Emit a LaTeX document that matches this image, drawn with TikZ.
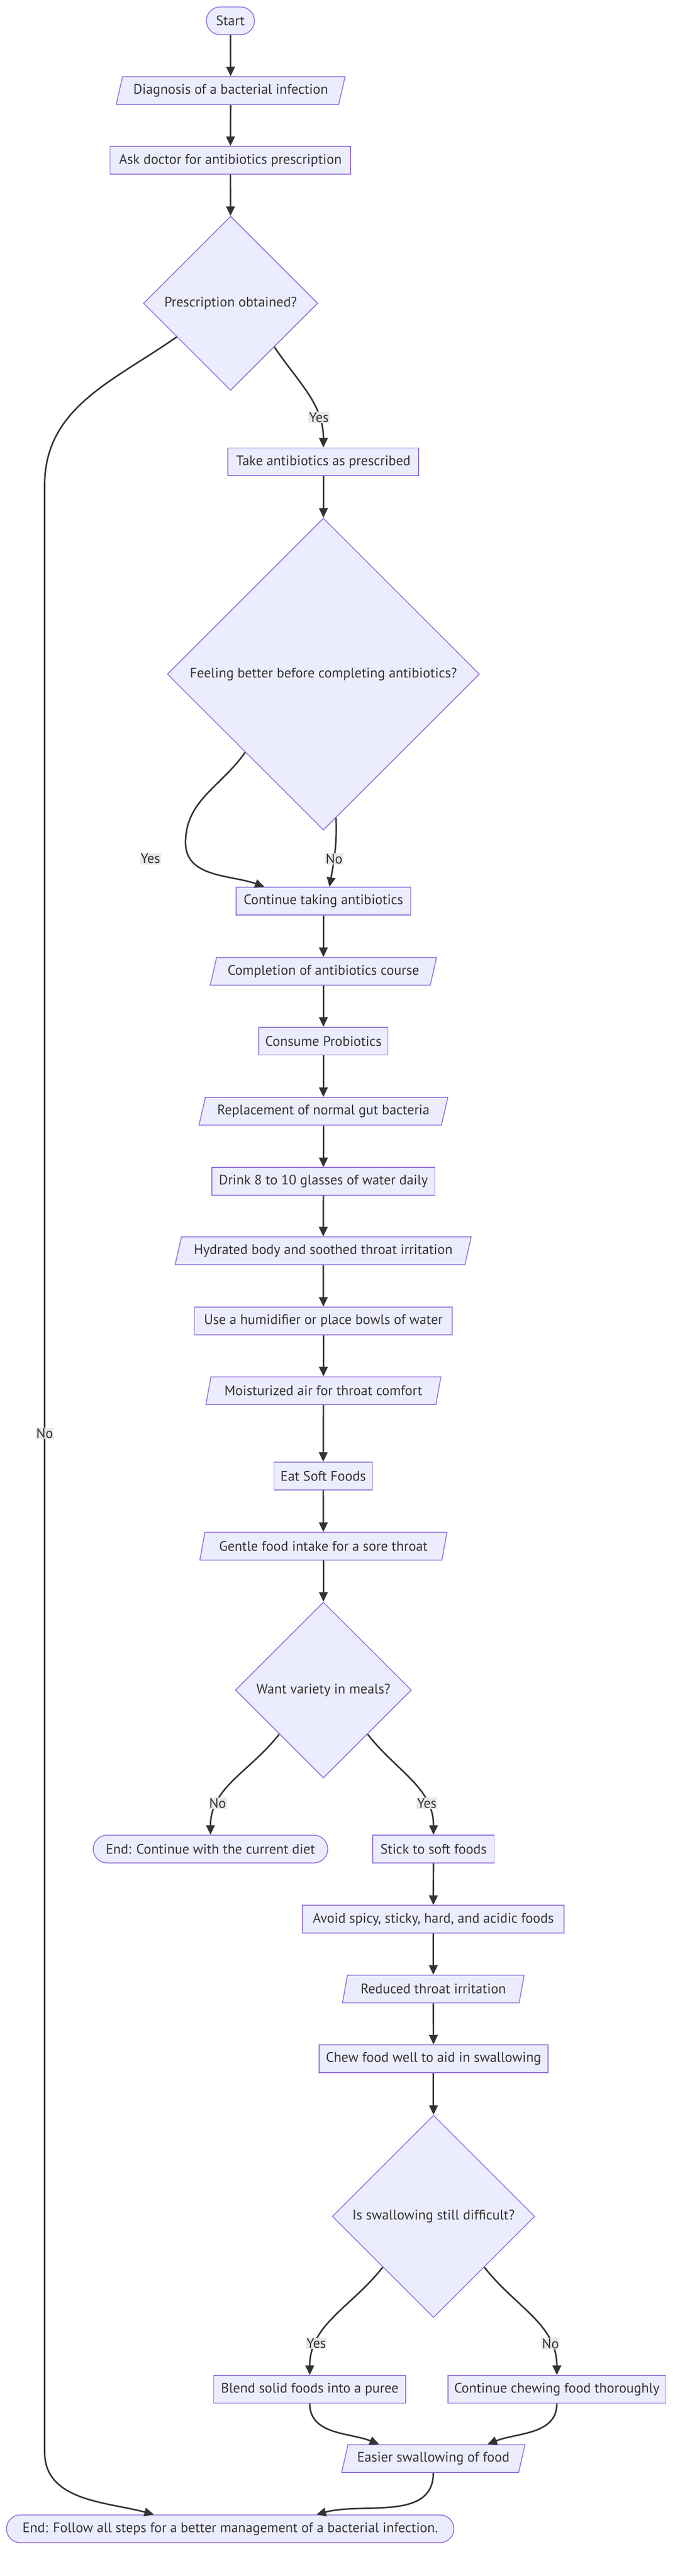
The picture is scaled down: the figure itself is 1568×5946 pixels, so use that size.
\documentclass[tikz,border=0pt]{standalone}
\usepackage{fontspec}
\setmainfont{PT Sans}
\usetikzlibrary{shapes.geometric,arrows.meta}

\definecolor{nodefill}{HTML}{ECECFF}
\definecolor{nodeline}{HTML}{9370DB}
\definecolor{inkgray}{HTML}{333333}
\definecolor{labelbg}{HTML}{E8E8E8}

\tikzset{
    box/.style={draw=nodeline, fill=nodefill, line width=2pt, text=inkgray, minimum height=64pt, inner sep=0pt},
    proc/.style={box, rectangle},
    io/.style={box, trapezium, trapezium left angle=63.4, trapezium right angle=116.6, trapezium stretches body=true},
    term/.style={box, rectangle, rounded corners=32pt},
    choice/.style={box, diamond, aspect=1, minimum width=#1, minimum height=#1},
    flow/.style={draw=inkgray, line width=3.5pt, -{Triangle[length=22pt,width=20pt]}},
    elabel/.style={fill=labelbg, text=inkgray, inner sep=1.5pt},
}

\begin{document}
\begin{tikzpicture}[x=1pt, y=-1pt, font=\fontsize{32}{38}\selectfont]
        \useasboundingbox (0,0) rectangle (1568,5946);

        \node[term, minimum width=111pt] (start) at (531.5,48) {Start};
        \node[io, minimum width=528pt] (diag) at (532,209) {Diagnosis of a bacterial infection};
        \node[proc, minimum width=555pt] (ask) at (531.5,370) {Ask doctor for antibiotics prescription};
        \node[choice=402pt] (presc) at (532,700) {Prescription obtained?};
        \node[proc, minimum width=440pt] (take) at (746,1066) {Take antibiotics as prescribed};
        \node[choice=720pt] (better) at (746,1556) {Feeling better before completing antibiotics?};
        \node[proc, minimum width=402pt] (cont) at (746,2080) {Continue taking antibiotics};
        \node[io, minimum width=522pt] (course) at (746,2242) {Completion of antibiotics course};
        \node[proc, minimum width=298pt] (probio) at (746,2403) {Consume Probiotics};
        \node[io, minimum width=574pt] (gut) at (746,2565) {Replacement of normal gut bacteria};
        \node[proc, minimum width=514pt] (water) at (746,2727) {Drink 8 to 10 glasses of water daily};
        \node[io, minimum width=683pt] (hydr) at (745.5,2887) {Hydrated body and soothed throat irritation};
        \node[proc, minimum width=594pt] (humid) at (746,3049) {Use a humidifier or place bowls of water};
        \node[io, minimum width=542pt] (moist) at (746,3210) {Moisturized air for throat comfort};
        \node[proc, minimum width=227pt] (soft) at (745.5,3407) {Eat Soft Foods};
        \node[io, minimum width=570pt] (gentle) at (746,3569) {Gentle food intake for a sore throat};
        \node[choice=406pt] (variety) at (746,3901) {Want variety in meals?};
        \node[term, minimum width=541pt] (enddiet) at (485.5,4268) {End: Continue with the current diet};
        \node[proc, minimum width=280pt] (stick) at (1000,4268) {Stick to soft foods};
        \node[proc, minimum width=603pt] (avoid) at (999.5,4430) {Avoid spicy, sticky, hard, and acidic foods};
        \node[io, minimum width=419pt] (reduced) at (999.5,4591) {Reduced throat irritation};
        \node[proc, minimum width=528pt] (chew) at (1000,4752) {Chew food well to aid in swallowing};
        \node[choice=467pt] (swallow) at (1000,5116) {Is swallowing still difficult?};
        \node[proc, minimum width=443pt] (blend) at (714.5,5515) {Blend solid foods into a puree};
        \node[proc, minimum width=503pt] (chewon) at (1284.5,5515) {Continue chewing food thoroughly};
        \node[io, minimum width=423pt] (easier) at (999.5,5675) {Easier swallowing of food};
        \node[term, minimum width=1032pt] (endall) at (531,5837) {End: Follow all steps for a better management of a bacterial infection.};

        \foreach \a/\b in {start/diag, diag/ask, ask/presc, take/better, cont/course, course/probio,
                probio/gut, gut/water, water/hydr, hydr/humid, humid/moist, moist/soft, soft/gentle,
                gentle/variety, stick/avoid, avoid/reduced, reduced/chew, chew/swallow} {
            \draw[flow] (\a) -- (\b);
        }

        \draw[flow] (presc.south east) to[out=-56, in=90] node[elabel, pos=0.74] (lyes1) {Yes} (take.north);
        \draw[flow] (presc.212) to[out=-145, in=90] (103,1120) -- node[elabel, pos=0.482] (lno1) {No} (103,5660)
            to[out=-90, in=165] ([xshift=-176pt]endall.north);

        \draw[flow] (better.south west) to[out=-125, in=90] (428,1945) to[out=-90, in=160] ([xshift=-136pt]cont.north);
        \node[elabel] (lyes2) at (347,1982) {Yes};
        \draw[flow] (better.-85) to[out=-88, in=80] node[elabel, pos=0.6] (lno2) {No} ([xshift=14pt]cont.north);

        \draw[flow] (variety.south west) to[out=-128, in=90] node[elabel, pos=0.74] (lno3) {No} (enddiet.north);
        \draw[flow] (variety.south east) to[out=-52, in=90] node[elabel, pos=0.74] (lyes3) {Yes} (stick.north);

        \draw[flow] (swallow.south west) to[out=-128, in=90] node[elabel, pos=0.76] (lyes4) {Yes} (blend.north);
        \draw[flow] (swallow.south east) to[out=-52, in=90] node[elabel, pos=0.76] (lno4) {No} (chewon.north);

        \draw[flow] (blend.south) to[out=-90, in=158] ([xshift=-125pt]easier.north);
        \draw[flow] (chewon.south) to[out=-90, in=22] ([xshift=125pt]easier.north);
        \draw[flow] (easier.south) to[out=-90, in=15] ([xshift=199pt]endall.north);

    \end{tikzpicture}
\end{document}
